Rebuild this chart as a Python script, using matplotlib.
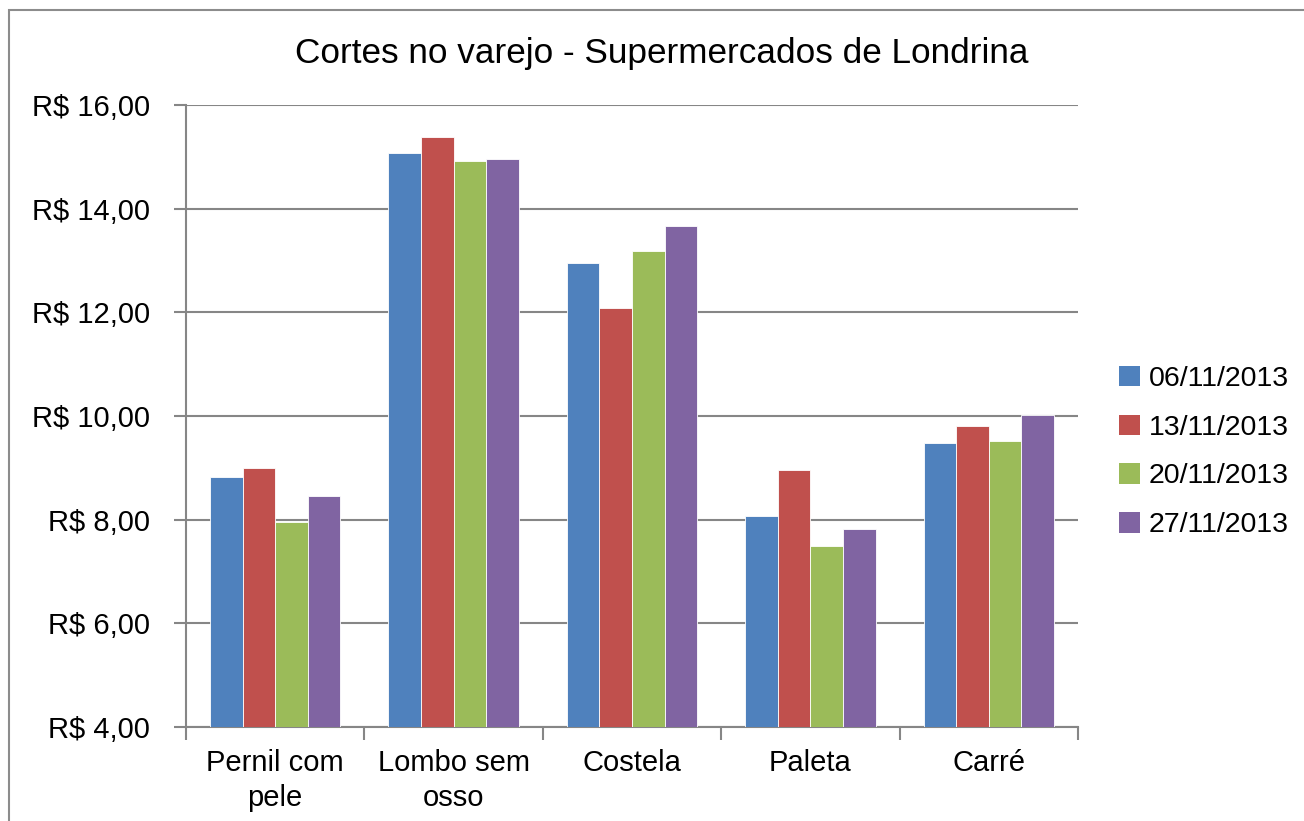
import matplotlib
matplotlib.use("Agg")
import matplotlib.pyplot as plt
import numpy as np
from matplotlib.patches import Rectangle, Patch
from matplotlib.ticker import FuncFormatter, FixedLocator

categories = ["Pernil com\npele", "Lombo sem\nosso", "Costela", "Paleta", "Carré"]
series_names = ["06/11/2013", "13/11/2013", "20/11/2013", "27/11/2013"]
v_0611 = [8.82, 15.08, 12.96, 8.08, 9.48]
v_1311 = [9.00, 15.38, 12.09, 8.95, 9.81]
v_2011 = [7.95, 14.92, 13.19, 7.49, 9.52]
v_2711 = [8.45, 14.96, 13.67, 7.82, 10.02]
values = [v_0611, v_1311, v_2011, v_2711]
colors = ["#4F81BD", "#C0504D", "#9BBB59", "#8064A2"]
y_ticks = [4, 6, 8, 10, 12, 14, 16]

plt.rcParams['font.family'] = ['Liberation Sans', 'DejaVu Sans']

W, H = 1304, 821
fig = plt.figure(figsize=(W / 100, H / 100), dpi=100)
ax = fig.add_axes([186 / W, 1 - 727 / H, (1078 - 186) / W, (727 - 105) / H])

x = np.arange(len(categories))
bw = 0.73 / 4
for i, (vals, c, name) in enumerate(zip(values, colors, series_names)):
    ax.bar(x + (i - 1.5) * bw, [v - 4 for v in vals], bottom=4, width=bw,
           color=c, edgecolor='white', linewidth=0.6, label=name, zorder=3)

ax.set_xlim(-0.5, len(categories) - 0.5)
ax.set_ylim(4, 16)
ax.yaxis.set_major_locator(FixedLocator(y_ticks))
ax.yaxis.set_major_formatter(FuncFormatter(lambda v, p: "R$ %d,00" % v))
ax.grid(axis='y', color='#868686', linewidth=1.5, zorder=0)
ax.set_axisbelow(True)

ax.set_xticks(x)
ax.set_xticklabels(categories, fontsize=21, linespacing=1.3)
ax.set_xticks(np.arange(-0.5, len(categories)), minor=True)
ax.tick_params(axis='x', which='major', length=0, pad=16)
ax.tick_params(axis='x', which='minor', length=9, width=1.5, color='#868686')
ax.tick_params(axis='y', length=9, width=1.5, color='#868686', labelsize=21, pad=17)

for s in ['top', 'right']:
    ax.spines[s].set_visible(False)
for s in ['left', 'bottom']:
    ax.spines[s].set_color('#868686')
    ax.spines[s].set_linewidth(1.5)

fig.text(662 / W, 1 - 54 / H, "Cortes no varejo - Supermercados de Londrina",
         ha='center', va='center', fontsize=25.3)

handles = [Patch(facecolor=c, edgecolor='none') for c in colors]
fig.legend(handles, series_names, loc='center left',
           bbox_to_anchor=(1108 / W, 1 - 452 / H), frameon=False,
           fontsize=20.5, handlelength=0.72, handleheight=0.72,
           handletextpad=0.3, labelspacing=0.8, borderaxespad=0)

fig.patches.append(Rectangle((9 / W, -0.05), 1.2, 1 - 10 / H + 0.05,
                             transform=fig.transFigure, fill=False,
                             edgecolor='#8c8c8c', linewidth=1.5))

fig.savefig("out.png", dpi=100)
